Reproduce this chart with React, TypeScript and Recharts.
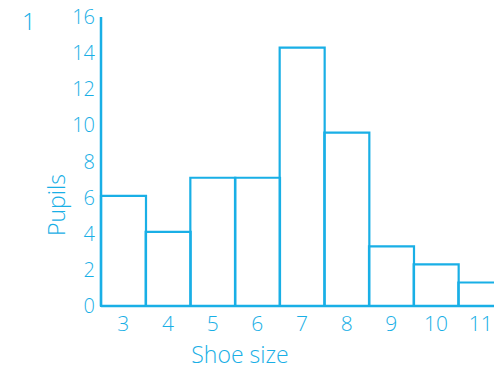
import React from 'react';
import { BarChart, Bar, XAxis, YAxis, Label } from 'recharts';

const shoeSizes = ['3', '4', '5', '6', '7', '8', '9', '10', '11'];
const pupils = [6.1, 4.1, 7.1, 7.1, 14.3, 9.6, 3.3, 2.3, 1.3];
const yTicks = [0, 2, 4, 6, 8, 10, 12, 14, 16];

const data = shoeSizes.map((s, i) => ({ size: s, pupils: pupils[i] }));

const BLUE = '#19afe6';
const FONT = '"Open Sans", "DejaVu Sans", sans-serif';

export default function App() {
  return (
    <div style={{ position: 'absolute', left: 0, top: 0, width: 494, height: 370, overflow: 'hidden', background: '#fff' }}>
      <div style={{ position: 'absolute', left: 22, top: 4, color: BLUE, fontFamily: FONT, fontWeight: 300, fontSize: 24 }}>1</div>
      <BarChart
        width={510}
        height={370}
        data={data}
        margin={{ top: 17, right: 7, bottom: 0, left: 0 }}
        barCategoryGap={0}
        barGap={0}
      >
        <XAxis
          dataKey="size"
          height={64}
          axisLine={{ stroke: BLUE, strokeWidth: 2.5 }}
          tickLine={false}
          tickSize={0}
          tickMargin={10}
          tick={{ fill: BLUE, fontSize: 21, fontFamily: FONT, fontWeight: 300 }}
          interval={0}
        >
          <Label
            content={(props: any) => {
              const vb = props.viewBox || {};
              return (
                <text x={vb.x + 139} y={vb.y + 57} fill={BLUE} fontSize={23} fontFamily={FONT} fontWeight={300} textAnchor="middle">
                  Shoe size
                </text>
              );
            }}
          />
        </XAxis>
        <YAxis
          width={101}
          domain={[0, 16]}
          ticks={yTicks}
          interval={0}
          axisLine={{ stroke: BLUE, strokeWidth: 2.5 }}
          tickLine={false}
          tickSize={0}
          tickMargin={6}
          tick={{ fill: BLUE, fontSize: 20, fontFamily: FONT, fontWeight: 300 }}
        >
          <Label
            content={(props: any) => {
              const vb = props.viewBox || {};
              const cx = vb.x + 56;
              const cy = vb.y + 188;
              return (
                <text x={cx} y={cy} fill={BLUE} fontSize={23} fontFamily={FONT} fontWeight={300} textAnchor="middle" dominantBaseline="central" transform={`rotate(-90 ${cx} ${cy})`}>
                  Pupils
                </text>
              );
            }}
          />
        </YAxis>
        <Bar dataKey="pupils" fill="none" stroke={BLUE} strokeWidth={2.2} isAnimationActive={false} />
      </BarChart>
    </div>
  );
}
